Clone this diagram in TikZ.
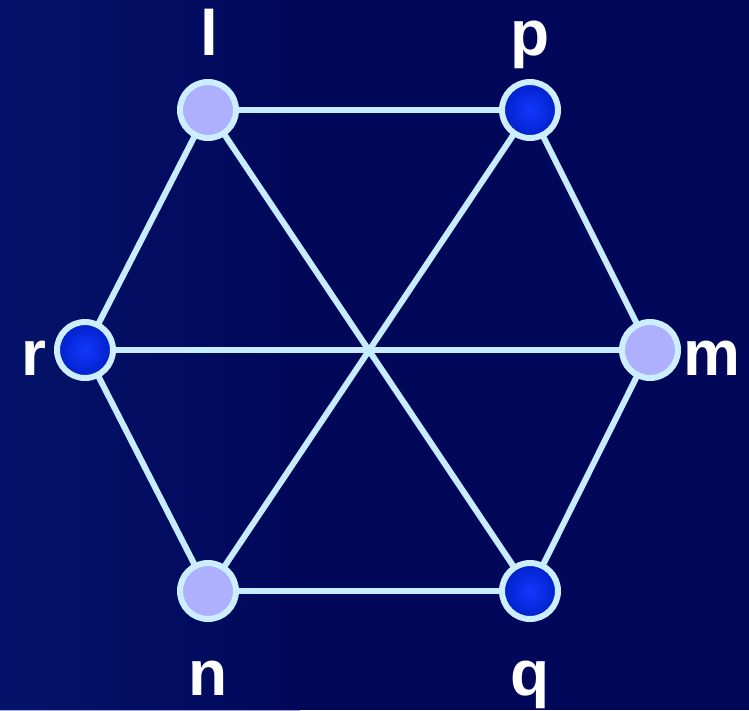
\documentclass[tikz,border=0pt]{standalone}
\usepackage{fontspec}
\setmainfont{Liberation Sans}
\usetikzlibrary{shadings}
\pgfdeclarelayer{bglayer}
\pgfdeclarelayer{edgelayer}
\pgfsetlayers{bglayer,edgelayer,main}
\definecolor{bgnavy}{HTML}{01085A}
\definecolor{bglight}{HTML}{0C2A88}
\definecolor{edgecol}{HTML}{C8ECFF}
\definecolor{ringcol}{HTML}{CCEEFF}
\definecolor{lavender}{HTML}{AEB0FF}
\definecolor{bluein}{HTML}{1438FF}
\definecolor{blueout}{HTML}{0020C8}
\tikzset{
  edge/.style={draw=edgecol, line width=6pt},
  vlight/.style={circle, draw=ringcol, line width=6pt, fill=lavender, minimum size=56pt, inner sep=0pt},
  vdark/.style={circle, draw=ringcol, line width=6pt, inner color=bluein, outer color=blueout, minimum size=56pt, inner sep=0pt},
  lab/.style={text=white, font=\fontsize{64}{64}\selectfont\bfseries, anchor=base, inner sep=0pt}
}
\begin{document}
\begin{tikzpicture}[x=1pt,y=-1pt]
\useasboundingbox (0,0) rectangle (749,710);
\begin{pgfonlayer}{bglayer}
\fill[bgnavy] (0,0) rectangle (749,710);
\shade[left color=bglight, right color=bgnavy, opacity=0.35] (0,0) rectangle (300,710);
\end{pgfonlayer}
% vertices
\node[vlight] (l) at (208,110) {};
\node[vdark]  (p) at (530,110) {};
\node[vdark]  (r) at (85,350) {};
\node[vlight] (m) at (650,350) {};
\node[vlight] (n) at (208,591) {};
\node[vdark]  (q) at (530,591) {};
% edges
\begin{pgfonlayer}{edgelayer}
\draw[edge] (l.center) -- (p.center);
\draw[edge] (p.center) -- (m.center);
\draw[edge] (m.center) -- (q.center);
\draw[edge] (q.center) -- (n.center);
\draw[edge] (n.center) -- (r.center);
\draw[edge] (r.center) -- (l.center);
\draw[edge] (l.center) -- (q.center);
\draw[edge] (p.center) -- (n.center);
\draw[edge] (r.center) -- (m.center);
\end{pgfonlayer}
% labels
\node[lab] (ll) at (209,55) {l};
\node[lab] (lp) at (530,55) {p};
\node[lab] (lr) at (34,375) {r};
\node[lab] (lm) at (712,375) {m};
\node[lab] (ln) at (208,695) {n};
\node[lab] (lq) at (530,695) {q};
\end{tikzpicture}
\end{document}
